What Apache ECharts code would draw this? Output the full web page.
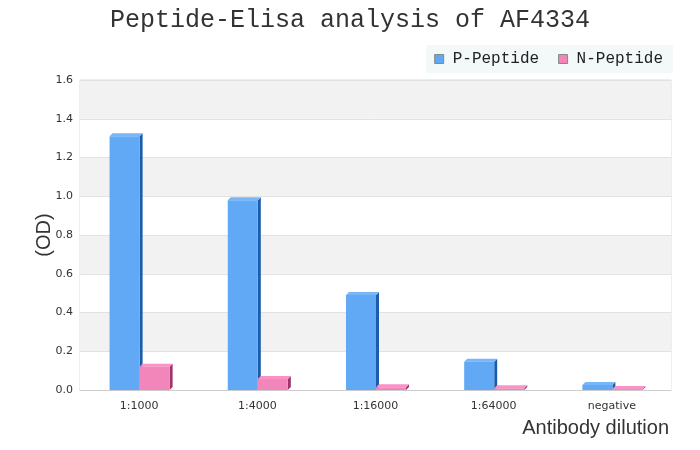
<!DOCTYPE html>
<html>
<head>
<meta charset="utf-8">
<script src="https://cdn.jsdelivr.net/npm/echarts@6/dist/echarts.min.js"></script>
<style>html,body{margin:0;padding:0;background:#fff}#c{width:700px;height:450px}</style>
</head>
<body>
<div id="c"></div>
<script>
const categories = ['1:1000', '1:4000', '1:16000', '1:64000', 'negative'];
const pPeptide = [1.31, 0.98, 0.49, 0.146, 0.026];
const nPeptide = [0.12, 0.057, 0.014, 0.009, 0.005];
const yTicks = [0, 0.2, 0.4, 0.6, 0.8, 1.0, 1.2, 1.4, 1.6];

const chart = echarts.init(document.getElementById('c'));

function make3D(offsetSide, front, side, top) {
  return function (params, api) {
    const idx = api.value(0);
    const val = api.value(1);
    const band = api.size([1, 0])[0];
    const bw = band * 0.254;
    const c = api.coord([idx, 0]);
    const t = api.coord([idx, val]);
    const cx = c[0] + 0.5;
    const x0 = offsetSide < 0 ? cx - bw : cx;
    const x1 = x0 + bw;
    const base = c[1];
    const ty = t[1];
    const d = 3;
    return {
      type: 'group',
      children: [
        { type: 'polygon', shape: { points: [[x1, ty], [x1 + d, ty - d], [x1 + d, base - d], [x1, base]] }, style: { fill: side } },
        { type: 'polygon', shape: { points: [[x0, ty], [x0 + d, ty - d], [x1 + d, ty - d], [x1, ty]] }, style: { fill: top } },
        { type: 'rect', shape: { x: x0, y: ty, width: bw, height: base - ty }, style: { fill: front } }
      ]
    };
  };
}

chart.setOption({
  animation: false,
  title: {
    text: 'Peptide-Elisa analysis of AF4334',
    left: 'center',
    top: 3,
    textStyle: { fontFamily: 'Liberation Mono', fontSize: 25, fontWeight: 'normal', color: '#333' }
  },
  legend: {
    right: 27,
    top: 45,
    backgroundColor: '#f3f9f9',
    padding: [6, 10, 6, 8],
    itemWidth: 9,
    itemHeight: 9,
    itemGap: 19,
    textStyle: { fontFamily: 'Liberation Mono', fontSize: 16, color: '#222', padding: [0, 0, 0, 4] },
    data: [
      { name: 'P-Peptide', icon: 'rect', itemStyle: { color: '#60a8f4', borderColor: '#888', borderWidth: 1 } },
      { name: 'N-Peptide', icon: 'rect', itemStyle: { color: '#f286b8', borderColor: '#888', borderWidth: 1 } }
    ]
  },
  grid: { left: 80, right: 29, top: 80, bottom: 60, show: true, borderColor: '#dddddd', borderWidth: 1, backgroundColor: 'transparent' },
  xAxis: {
    type: 'category',
    data: categories,
    axisTick: { show: false },
    axisLine: { lineStyle: { color: '#cccccc' } },
    axisLabel: { fontFamily: 'DejaVu Sans', fontSize: 11, color: '#333', margin: 11 },
    name: 'Antibody dilution',
    nameLocation: 'end',
    nameGap: 0,
    nameTextStyle: { fontFamily: 'Liberation Sans', fontSize: 20, color: '#333', align: 'right', verticalAlign: 'top', padding: [28, 2, 0, 0] }
  },
  yAxis: {
    type: 'value',
    min: yTicks[0],
    max: yTicks[yTicks.length - 1],
    interval: 0.2,
    axisLine: { show: false },
    axisTick: { show: false },
    axisLabel: { fontFamily: 'DejaVu Sans', fontSize: 11, color: '#333', margin: 7, formatter: v => v.toFixed(1) },
    splitLine: { lineStyle: { color: '#e2e2e2' } },
    splitArea: { show: true, areaStyle: { color: ['#ffffff', '#f2f2f2'] } },
    name: '(OD)',
    nameLocation: 'middle',
    nameGap: 26,
    nameMoveOverlap: false,
    nameTextStyle: { fontFamily: 'Liberation Sans', fontSize: 20, color: '#333' }
  },
  series: [
    {
      name: 'P-Peptide',
      type: 'custom',
      renderItem: make3D(-1, '#61a9f4', '#1a5eab', '#78b6f8'),
      itemStyle: { color: '#60a8f4' },
      encode: { x: 0, y: 1 },
      data: categories.map((c, i) => [i, pPeptide[i]])
    },
    {
      name: 'N-Peptide',
      type: 'custom',
      renderItem: make3D(1, '#f285ba', '#a0336a', '#fb92c6'),
      itemStyle: { color: '#f286b8' },
      encode: { x: 0, y: 1 },
      data: categories.map((c, i) => [i, nPeptide[i]])
    }
  ]
});
</script>
</body>
</html>
